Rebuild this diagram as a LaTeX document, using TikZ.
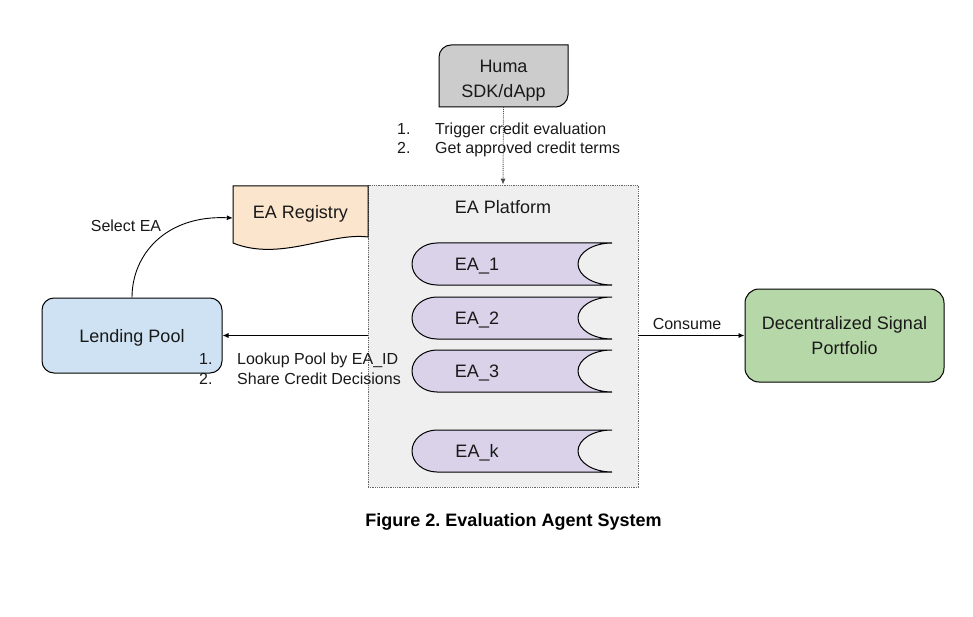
\documentclass[tikz,border=0pt]{standalone}
\usepackage{fontspec}
\setmainfont{Liberation Sans}
\usetikzlibrary{arrows.meta}
\definecolor{humagray}{HTML}{CCCCCC}
\definecolor{regfill}{HTML}{FCE5CD}
\definecolor{platfill}{HTML}{EFEFEF}
\definecolor{eafill}{HTML}{D9D2E9}
\definecolor{poolfill}{HTML}{CFE2F3}
\definecolor{dspfill}{HTML}{B6D7A8}
\newcommand\mainfs{\fontsize{18}{23}\selectfont}
\newcommand\smallfs{\fontsize{16}{19.5}\selectfont}
\newcommand\eashape[1]{%
  \begin{scope}[shift={(0,#1)}]
  \draw[shapeline,fill=eafill] (437,0) -- (612,0)
    .. controls (593.2,0) and (578,9.4) .. (578,21)
    .. controls (578,32.6) and (593.2,42) .. (612,42) -- (437,42)
    .. controls (423.2,42) and (412,32.6) .. (412,21)
    .. controls (412,9.4) and (423.2,0) .. (437,0) -- cycle;
  \end{scope}}
\begin{document}
\frenchspacing
\begin{tikzpicture}[x=1pt,y=-1pt,
  shapeline/.style={draw=black,line width=1pt},
  txt/.style={inner sep=0pt,font=\mainfs,align=center,text=black!90},
  lbl/.style={inner sep=0pt,font=\smallfs,align=left,text=black!90},
  conn/.style={line width=0.9pt,-{Latex[length=6pt,width=5pt]}},
  dotconn/.style={line width=0.9pt,densely dotted,draw=black!70,-{Latex[length=6pt,width=5pt]}}]
\useasboundingbox (0,0) rectangle (973,617);
% EA Platform
\node[draw=black!60,densely dotted,line width=0.8pt,fill=platfill,minimum width=270,minimum height=302,inner sep=0pt] (platform) at (503,336) {};
\node[txt] (plattitle) at (503,207.5) {EA Platform};
% EA items
\eashape{243}
\eashape{297}
\eashape{350}
\eashape{430}
\node[txt] (ea1) at (477,266) {EA\_1};
\node[txt] (ea2) at (477,320) {EA\_2};
\node[txt] (ea3) at (477,373) {EA\_3};
\node[txt] (eak) at (477,453) {EA\_k};
% Huma
\draw[shapeline,fill=humagray] (451,45) -- (568,45) -- (568,95)
  .. controls (568,101.6) and (561.4,107) .. (556,107) -- (439,107) -- (439,57)
  .. controls (439,50.4) and (444.4,45) .. (451,45) -- cycle;
\node[minimum width=129,minimum height=62,inner sep=0pt] (huma) at (503.5,76) {};
\node[txt,font=\fontsize{18}{25}\selectfont] (humatext) at (503.5,81) {Huma\\SDK/dApp};
% Registry
\draw[shapeline,fill=regfill] (233,186) -- (368,186) -- (368,237)
  .. controls (330,232) and (280,262) .. (233,243) -- cycle;
\node[txt,minimum width=135,minimum height=52] (registry) at (300.5,214) {EA Registry};
% Lending pool
\node[shapeline,fill=poolfill,rounded corners=12pt,minimum width=180,minimum height=75,txt,draw=black,line width=1pt,text depth=0pt] (lending) at (132,335.5) {Lending Pool};
% DSP
\node[shapeline,fill=dspfill,rounded corners=14pt,minimum width=199,minimum height=93,txt,draw=black,line width=1pt,font=\fontsize{18}{25}\selectfont,text depth=0pt] (dsp) at (844.5,335.5) {Decentralized Signal\\Portfolio};
% Connectors
\draw[dotconn] (huma.south) -- (platform.north);
\draw[conn] (platform.west |- lending.east) -- (lending.east);
\draw[conn] (platform.east |- dsp.west) -- (dsp.west);
\draw[conn] (lending.north) .. controls +(0,-43) and +(-67,-3) .. ([yshift=-4pt]registry.west);
% Labels
\node[lbl,anchor=west] (humalbl) at (397,140) {\makebox[38pt][l]{1.}Trigger credit evaluation\\\makebox[38pt][l]{2.}Get approved credit terms};
\node[lbl,anchor=west] (lookuplbl) at (199,369) {\makebox[38pt][l]{1.}Lookup Pool by EA\_ID\\\makebox[38pt][l]{2.}Share Credit Decisions};
\node[lbl] (consumelbl) at (687,324) {Consume};
\node[lbl] (selectlbl) at (126,226) {Select EA};
\node[txt,font=\fontsize{18}{22}\selectfont\bfseries,text=black] (caption) at (513.5,522) {Figure 2. Evaluation Agent System};
\end{tikzpicture}
\end{document}
